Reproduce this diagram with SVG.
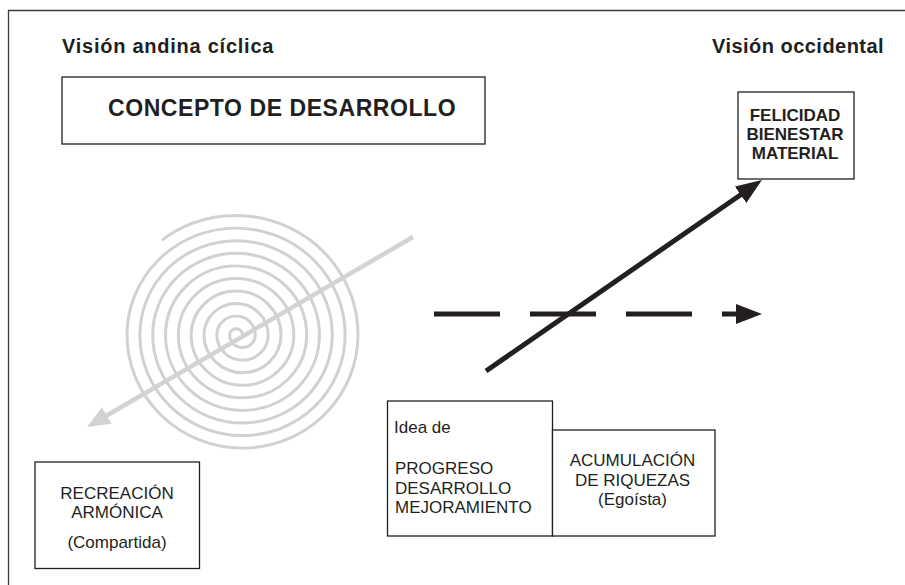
<svg xmlns="http://www.w3.org/2000/svg" width="905" height="585" viewBox="0 0 905 585">
<style>
  text { font-family: "Liberation Sans", Arial, Helvetica, sans-serif; fill: #231f20; }
  .title { font-size: 20px; font-weight: bold; }
  .big { font-size: 23px; font-weight: bold; letter-spacing: 0.57px; }
  .b17 { font-size: 17px; font-weight: bold; text-anchor: middle; }
  .r17 { font-size: 17px; }
  .c17 { font-size: 17px; text-anchor: middle; }
  .box { fill: #ffffff; stroke: #231f20; stroke-width: 1.3; }
  .frame { fill: none; stroke: #3a3a3a; stroke-width: 1.3; }
  .spiral { fill: none; stroke: #cfd1d3; stroke-width: 3; }
  .gray { fill: none; stroke: #d1d3d4; stroke-width: 4.5; }
  .black { fill: none; stroke: #231f20; stroke-width: 5; }
  .dash { stroke-dasharray: 66 30; }
</style>
<defs>
  <marker id="headBlack" markerUnits="userSpaceOnUse" viewBox="0 -11 27 22" refX="1" refY="0" markerWidth="27" markerHeight="22" orient="auto">
    <path d="M0,-10 L26,0 L0,10 z" fill="#231f20"/>
  </marker>
  <marker id="headGray" markerUnits="userSpaceOnUse" viewBox="0 -11 24 22" refX="1" refY="0" markerWidth="24" markerHeight="22" orient="auto">
    <path d="M0,-9.5 L23,0 L0,9.5 z" fill="#d1d3d4"/>
  </marker>
</defs>

<g id="frame">
  <line class="frame" x1="8" y1="10.5" x2="905" y2="10.5"/>
  <line class="frame" x1="8.5" y1="10" x2="8.5" y2="585"/>
</g>

<g id="spiral" transform="matrix(1 0 0 0.98 0 6.7)">
  <path class="spiral" d="M242.5,335 A6.415,6.415 0 0 0 229.67,335 A12.83,12.83 0 0 0 255.33,335 A19.245,19.245 0 0 0 216.84,335 A25.66,25.66 0 0 0 268.16,335 A32.075,32.075 0 0 0 204.01,335 A38.49,38.49 0 0 0 280.99,335 A44.905,44.905 0 0 0 191.18,335 A51.32,51.32 0 0 0 293.82,335 A57.735,57.735 0 0 0 178.35,335 A64.15,64.15 0 0 0 306.65,335 A70.565,70.565 0 0 0 165.52,335 A76.98,76.98 0 0 0 319.48,335 A83.395,83.395 0 0 0 152.69,335 A89.81,89.81 0 0 0 332.31,335 A96.225,96.225 0 0 0 139.86,335 A102.64,102.64 0 0 0 345.14,335 A109.055,109.055 0 0 0 127.03,335 A115.47,115.47 0 0 0 357.97,335 A121.935,121.935 0 0 0 161.97,238.13"/>
</g>

<g id="title-andina">
  <text class="title" x="62" y="53" style="letter-spacing:0.75px">Visión andina cíclica</text>
</g>
<g id="title-occidental">
  <text class="title" x="712" y="53" style="letter-spacing:0.47px">Visión occidental</text>
</g>

<g id="concepto">
  <rect class="box" x="62" y="77" width="423" height="67"/>
  <text class="big" x="108" y="116">CONCEPTO DE DESARROLLO</text>
</g>

<g id="felicidad">
  <rect class="box" x="738" y="92" width="116" height="87"/>
  <text class="b17" x="795" y="121">FELICIDAD</text>
  <text class="b17" x="795" y="140">BIENESTAR</text>
  <text class="b17" x="795" y="159">MATERIAL</text>
</g>

<g id="connectors">
  <line class="gray" x1="413" y1="237" x2="106" y2="416" marker-end="url(#headGray)"/>
  <line class="black dash" x1="434" y1="314" x2="737" y2="314" marker-end="url(#headBlack)"/>
  <line class="black" x1="486" y1="371" x2="741.4" y2="194.2" marker-end="url(#headBlack)"/>
</g>

<g id="idea">
  <rect class="box" x="387.5" y="401" width="165" height="135"/>
  <text class="r17" x="394" y="433">Idea de</text>
  <text class="r17" x="395" y="474">PROGRESO</text>
  <text class="r17" x="395" y="493.5">DESARROLLO</text>
  <text class="r17" x="395" y="513">MEJORAMIENTO</text>
</g>

<g id="acumulacion">
  <rect class="box" x="552.5" y="430" width="162.5" height="106"/>
  <text class="c17" x="632.5" y="466">ACUMULACIÓN</text>
  <text class="c17" x="632.5" y="486">DE RIQUEZAS</text>
  <text class="c17" x="632.5" y="504.5">(Egoísta)</text>
</g>

<g id="recreacion">
  <rect class="box" x="35" y="462" width="164.5" height="106.5"/>
  <text class="c17" x="117" y="498.5">RECREACIÓN</text>
  <text class="c17" x="117" y="517.5">ARMÓNICA</text>
  <text class="c17" x="117" y="548">(Compartida)</text>
</g>
</svg>
